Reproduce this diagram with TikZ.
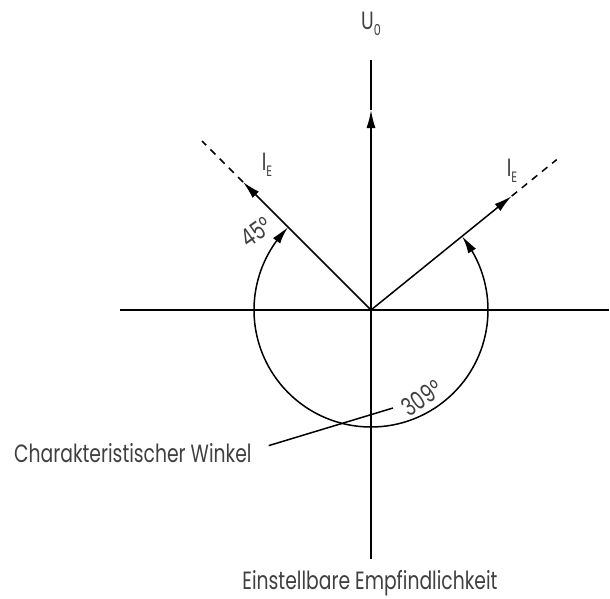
\documentclass[tikz,border=0pt]{standalone}
\usepackage{fontspec}
\setmainfont{Poppins}[FakeStretch=0.75]
\usetikzlibrary{arrows.meta, bending, calc}
\newcommand\lowidx[1]{\raisebox{-0.45ex}{\fontsize{15}{15}\selectfont #1}}

\begin{document}
\begin{tikzpicture}[x=1pt, y=1pt,
    axis/.style={line width=1.5pt},
    vec/.style={line width=1.5pt, -{Latex[length=18pt, width=9pt]}},
    ext/.style={line width=1.5pt, dash pattern=on 7pt off 6pt},
    angarc/.style={line width=1.5pt, {Latex[length=18pt, width=9pt, bend]}-{Latex[length=18pt, width=9pt, bend]}},
    lab/.style={font=\fontsize{25}{27}\selectfont, text=black!75, inner sep=0pt}]
  \useasboundingbox (-371,-288) rectangle (239,310);
  % Achsen
  \coordinate (O) at (0,0);
  \coordinate (west) at (-251,0);
  \coordinate (east) at (238,0);
  \coordinate (top)  at (0,250);
  \coordinate (bot)  at (0,-249);
  \coordinate (utip) at (0,200);
  \draw[axis] (west) -- (east);
  \draw[vec]  (bot) -- (utip);
  \draw[axis] (utip) -- (top);
  % Zeiger
  \coordinate (ltip) at (135:181);
  \coordinate (lend) at (135:239);
  \coordinate (rtip) at (39:181);
  \coordinate (rend) at (39:239);
  \draw[vec] (O) -- (ltip);
  \draw[ext] (ltip) -- (lend);
  \draw[vec] (O) -- (rtip);
  \draw[ext] (rtip) -- (rend);
  % Winkelbogen
  \draw[angarc] (39:117) arc[start angle=39, end angle=-225, radius=117];
  % Beschriftungen
  \node[lab, anchor=base] (u0) at (0,281) {U\lowidx{0}};
  \node[lab, anchor=base] (iel) at (-104,140) {I\lowidx{E}};
  \node[lab, anchor=base] (ier) at (141,134) {I\lowidx{E}};
  \node[lab, rotate=35] (w45) at (-115,78) {45°};
  \node[lab, rotate=35] (w309) at (51,-88) {309°};
  \node[lab, anchor=base west] (chr) at (-357,-152) {Charakteristischer Winkel};
  \node[lab, anchor=base] (emp) at (-1,-279) {Einstellbare Empfindlichkeit};
  % Hinweislinie
  \coordinate (lptr) at (22,-98);
  \draw[axis] ([xshift=17pt, yshift=7pt]chr.east) -- (lptr);
\end{tikzpicture}
\end{document}
